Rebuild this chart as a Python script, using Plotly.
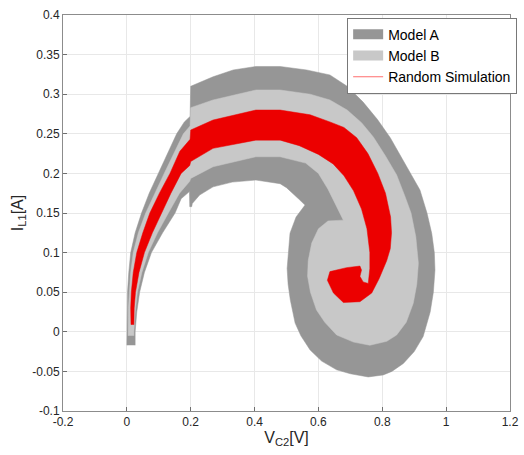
import plotly.graph_objects as go

# ---- data ----
model_a_x = [0.0, 0.0, 0.001, 0.002, 0.006, 0.012, 0.026, 0.046, 0.07, 0.099, 0.127, 0.156, 0.18, 0.198,
             0.2, 0.27, 0.333, 0.404, 0.48, 0.563, 0.636, 0.69, 0.74, 0.785, 0.825, 0.858, 0.89, 0.918,
             0.94, 0.955, 0.963, 0.965, 0.96, 0.95, 0.928, 0.9, 0.866, 0.83, 0.803, 0.756, 0.7, 0.657,
             0.61, 0.574, 0.545, 0.527, 0.512, 0.505, 0.502, 0.505, 0.511, 0.53, 0.558,
             0.54, 0.5, 0.48, 0.404, 0.33, 0.27, 0.228, 0.205, 0.203, 0.197, 0.196, 0.17, 0.151,
             0.112, 0.077, 0.055, 0.04, 0.031, 0.026, 0.026]
model_a_y = [-0.017, 0.0, 0.03, 0.05, 0.075, 0.1, 0.125, 0.15, 0.175, 0.2, 0.225, 0.25, 0.265, 0.272,
             0.31, 0.322, 0.3306, 0.335, 0.335, 0.3306, 0.3243, 0.31, 0.29, 0.268, 0.245, 0.222, 0.2,
             0.179, 0.15, 0.124, 0.1, 0.078, 0.05, 0.025, -0.006, -0.025, -0.04, -0.05, -0.0545,
             -0.057, -0.053, -0.048, -0.037, -0.023, -0.005, 0.011, 0.04, 0.06, 0.08, 0.1, 0.1245,
             0.145, 0.16,
             0.167, 0.182, 0.187, 0.1916, 0.189, 0.183, 0.1727, 0.162, 0.158, 0.158, 0.177, 0.168,
             0.15, 0.125, 0.1, 0.075, 0.05, 0.025, 0.0, -0.017]

model_b_x = [0.004, 0.004, 0.005, 0.008, 0.012, 0.02, 0.036, 0.059, 0.087, 0.117, 0.147, 0.177, 0.198,
             0.2, 0.27, 0.404, 0.48, 0.574, 0.636, 0.69, 0.735, 0.772, 0.81, 0.845, 0.872, 0.89, 0.905,
             0.913, 0.908, 0.897, 0.875, 0.845, 0.814, 0.761, 0.71, 0.657, 0.62, 0.594, 0.575, 0.566,
             0.568, 0.579, 0.6, 0.63, 0.678,
             0.655, 0.63, 0.6, 0.56, 0.48, 0.404, 0.27, 0.2, 0.197, 0.165, 0.13, 0.096, 0.067, 0.047,
             0.033, 0.026, 0.022, 0.022]
model_b_y = [-0.005, 0.0, 0.03, 0.05, 0.075, 0.1, 0.125, 0.15, 0.175, 0.2, 0.225, 0.25, 0.26,
             0.283, 0.2927, 0.3053, 0.3053, 0.3, 0.2927, 0.28, 0.264, 0.246, 0.222, 0.198, 0.17, 0.15,
             0.12, 0.0865, 0.06, 0.036, 0.012, -0.004, -0.012, -0.017, -0.013, -0.004, 0.012, 0.0275,
             0.05, 0.07, 0.09, 0.112, 0.13, 0.14, 0.141,
             0.16, 0.18, 0.2, 0.213, 0.221, 0.221, 0.2084, 0.1937, 0.19, 0.175, 0.15, 0.125, 0.1,
             0.075, 0.05, 0.025, 0.0, -0.005]

sim_x = [0.013, 0.012, 0.014, 0.02, 0.031, 0.05, 0.072, 0.102, 0.135, 0.166, 0.198, 0.2, 0.27, 0.404,
         0.48, 0.574, 0.636, 0.68, 0.72, 0.755, 0.786, 0.81, 0.826, 0.829, 0.825, 0.814, 0.79, 0.767,
         0.73, 0.678, 0.647, 0.628, 0.636, 0.688, 0.73, 0.735, 0.73, 0.74, 0.756,
         0.761, 0.761, 0.752, 0.735, 0.71, 0.68, 0.646, 0.6, 0.54, 0.48, 0.404, 0.27, 0.2, 0.197,
         0.17, 0.138, 0.109, 0.08, 0.055, 0.038, 0.027, 0.023, 0.022]
sim_y = [0.009, 0.03, 0.05, 0.075, 0.1, 0.125, 0.15, 0.175, 0.2, 0.228, 0.243, 0.2548, 0.2674, 0.28,
         0.28, 0.274, 0.265, 0.258, 0.245, 0.225, 0.2, 0.175, 0.145, 0.125, 0.105, 0.09, 0.067, 0.049,
         0.038, 0.037, 0.049, 0.065, 0.076, 0.081, 0.083, 0.078, 0.07, 0.063, 0.061,
         0.08, 0.1, 0.13, 0.155, 0.178, 0.197, 0.212, 0.224, 0.235, 0.242, 0.242, 0.2316, 0.215, 0.21,
         0.2, 0.175, 0.15, 0.125, 0.1, 0.075, 0.05, 0.03, 0.009]

x_ticks = [-0.2, 0, 0.2, 0.4, 0.6, 0.8, 1, 1.2]
x_tick_labels = ["-0.2", "0", "0.2", "0.4", "0.6", "0.8", "1", "1.2"]
y_ticks = [-0.1, -0.05, 0, 0.05, 0.1, 0.15, 0.2, 0.25, 0.3, 0.35, 0.4]
y_tick_labels = ["-0.1", "-0.05", "0", "0.05", "0.1", "0.15", "0.2", "0.25", "0.3", "0.35", "0.4"]

COL_A = "rgb(150,150,150)"
COL_B = "rgb(200,200,200)"
COL_SIM = "rgb(236,0,0)"

fig = go.Figure()
fig.add_trace(go.Scatter(x=model_a_x, y=model_a_y, fill="toself", mode="lines",
                         line=dict(color=COL_A, width=0.5), fillcolor=COL_A, name="Model A",
                         showlegend=False))
fig.add_trace(go.Scatter(x=model_b_x, y=model_b_y, fill="toself", mode="lines",
                         line=dict(color=COL_B, width=0.5), fillcolor=COL_B, name="Model B",
                         showlegend=False))
fig.add_trace(go.Scatter(x=sim_x, y=sim_y, fill="toself", mode="lines",
                         line=dict(color=COL_SIM, width=0.5), fillcolor=COL_SIM,
                         name="Random Simulation", showlegend=False))
# legend entries
fig.add_trace(go.Scatter(x=[None], y=[None], mode="lines",
                         line=dict(color=COL_A, width=13), name="Model A"))
fig.add_trace(go.Scatter(x=[None], y=[None], mode="lines",
                         line=dict(color=COL_B, width=13), name="Model B"))
fig.add_trace(go.Scatter(x=[None], y=[None], mode="lines",
                         line=dict(color="rgb(255,110,110)", width=1.2), name="Random Simulation"))

axis_common = dict(showgrid=True, gridcolor="rgb(232,232,232)", gridwidth=1,
                   showline=True, linecolor="rgb(140,140,140)", linewidth=1, mirror=True,
                   ticks="inside", ticklen=4, tickcolor="rgb(110,110,110)",
                   zeroline=False, tickfont=dict(family="Liberation Sans, Arial", size=12,
                                                 color="rgb(38,38,38)"))
fig.update_xaxes(range=[-0.2, 1.2], tickvals=x_ticks, ticktext=x_tick_labels,
                 title=dict(text="V<sub>C2</sub>[V]", font=dict(family="Liberation Sans, Arial",
                            size=16, color="rgb(38,38,38)"), standoff=3), **axis_common)
fig.update_yaxes(range=[-0.1, 0.4], tickvals=y_ticks, ticktext=y_tick_labels,
                 title=dict(text="I<sub>L1</sub>[A]", font=dict(family="Liberation Sans, Arial",
                            size=16, color="rgb(38,38,38)"), standoff=4), **axis_common)

fig.update_layout(
    width=524, height=455,
    margin=dict(l=63, r=14, t=15, b=44, autoexpand=False),
    plot_bgcolor="white", paper_bgcolor="white",
    showlegend=True,
    legend=dict(x=1.016, y=0.993, xanchor="right", yanchor="top",
                bgcolor="white", bordercolor="rgb(120,120,120)", borderwidth=1,
                font=dict(family="Liberation Sans, Arial", size=14, color="black"),
                tracegroupgap=0, itemwidth=30),
)

fig.write_html("out.html")
